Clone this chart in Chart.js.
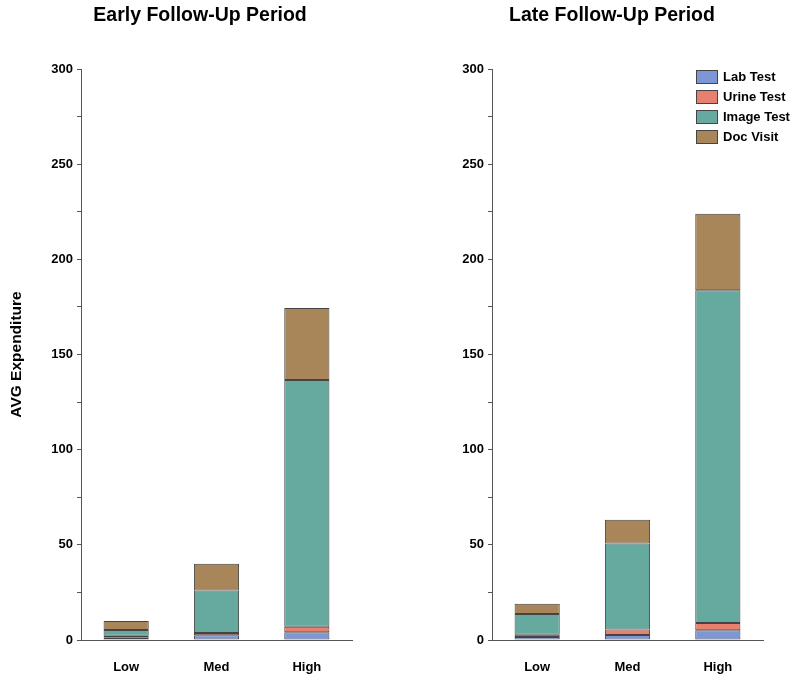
<!DOCTYPE html>
<html>
<head>
<meta charset="utf-8">
<script src="https://cdn.jsdelivr.net/npm/chart.js@4"></script>
<style>
  body { margin: 0; background: #fff; }
  #wrap { position: relative; width: 800px; height: 680px; }
  #earlyChart { position: absolute; left: 0; top: 0; }
  #lateChart { position: absolute; left: 424px; top: 0; }
</style>
</head>
<body>
<div id="wrap">
  <canvas id="earlyChart" width="400" height="680"></canvas>
  <canvas id="lateChart" width="376" height="680"></canvas>
</div>
<script>
const categorias = ['Low', 'Med', 'High'];
const series = ['Lab Test', 'Urine Test', 'Image Test', 'Doc Visit'];
const colores = ['#7d96d6', '#e8806f', '#66a99f', '#a9855a'];

// early follow-up
const earlyLab = [1.2, 2.5, 4.1];
const earlyUrine = [1.0, 1.2, 2.8];
const earlyImage = [3.0, 22.3, 129.7];
const earlyDoc = [4.8, 14.0, 37.8];

// late follow-up
const lateLab = [1.6, 2.6, 5.1];
const lateUrine = [1.1, 2.9, 3.8];
const lateImage = [11.0, 45.2, 174.8];
const lateDoc = [5.3, 12.5, 40.3];

const yTicks = [0, 50, 100, 150, 200, 250, 300];

const fuente = 'Arial, "Liberation Sans", sans-serif';

// centrar el titulo sobre todo el canvas y no solo dentro del padding
const tituloCentrado = {
    id: 'tituloCentrado',
    afterLayout(chart) {
        const t = chart.titleBlock;
        if (t) {
            t.left = 0;
            t.right = chart.width;
            t.width = chart.width;
        }
    }
};

// leyenda dibujada dentro del area del grafico (arriba a la derecha)
const leyendaDentro = {
    id: 'leyendaDentro',
    afterDraw(chart, args, opts) {
        if (!opts.display) return;
        const ctx = chart.ctx;
        const area = chart.chartArea;
        const x0 = area.right - 67;
        let y0 = area.top + 1;
        ctx.save();
        ctx.font = 'bold 13px ' + fuente;
        ctx.textBaseline = 'middle';
        chart.data.datasets.forEach(ds => {
            ctx.fillStyle = ds.backgroundColor;
            ctx.fillRect(x0, y0, 22, 14);
            ctx.strokeStyle = '#444';
            ctx.lineWidth = 1;
            ctx.strokeRect(x0 + 0.5, y0 + 0.5, 21, 13);
            ctx.fillStyle = '#000';
            ctx.fillText(ds.label, x0 + 27, y0 + 7.5);
            y0 += 20;
        });
        ctx.restore();
    }
};

function crearGrafico(id, titulo, datos, anchoEjeY, padDerecha, conTituloY, conLeyenda) {
    const ctx = document.getElementById(id).getContext('2d');
    return new Chart(ctx, {
        type: 'bar',
        data: {
            labels: categorias,
            datasets: series.map((s, i) => ({
                label: s,
                data: datos[i],
                backgroundColor: colores[i],
                borderColor: '#444',
                borderWidth: 1,
                borderSkipped: false,
                categoryPercentage: 1,
                barPercentage: 0.5
            }))
        },
        options: {
            responsive: false,
            animation: false,
            layout: { padding: { left: 0, right: padDerecha, top: 0, bottom: 0 } },
            plugins: {
                legend: { display: false },
                tooltip: { enabled: false },
                title: {
                    display: true,
                    text: titulo,
                    color: '#000',
                    font: { family: fuente, size: 19.5, weight: 'bold' },
                    padding: { top: 4, bottom: 41.6 }
                },
                leyendaDentro: { display: conLeyenda }
            },
            scales: {
                x: {
                    stacked: true,
                    grid: { display: false, drawTicks: false },
                    border: { display: true, color: '#555', width: 1 },
                    ticks: {
                        color: '#000',
                        padding: 20,
                        font: { family: fuente, size: 13, weight: 'bold' }
                    },
                    afterFit(scale) { scale.height = 40; }
                },
                y: {
                    stacked: true,
                    min: 0,
                    max: 300,
                    grid: { drawOnChartArea: false, drawTicks: true, tickLength: 4, color: '#555' },
                    border: { display: true, color: '#555', width: 1 },
                    ticks: {
                        stepSize: 25,
                        color: '#000',
                        padding: 4,
                        font: { family: fuente, size: 13, weight: 'bold' },
                        callback: v => yTicks.includes(v) ? v : ''
                    },
                    title: {
                        display: conTituloY,
                        text: 'AVG Expenditure',
                        color: '#000',
                        font: { family: fuente, size: 15.5, weight: 'bold' },
                        padding: { top: 7, bottom: 0 }
                    },
                    afterFit(scale) { scale.width = anchoEjeY; }
                }
            }
        },
        plugins: [tituloCentrado, leyendaDentro]
    });
}

crearGrafico('earlyChart', 'Early Follow-Up Period',
    [earlyLab, earlyUrine, earlyImage, earlyDoc], 81, 48, true, false);
crearGrafico('lateChart', 'Late Follow-Up Period',
    [lateLab, lateUrine, lateImage, lateDoc], 68, 37, false, true);
</script>
</body>
</html>
